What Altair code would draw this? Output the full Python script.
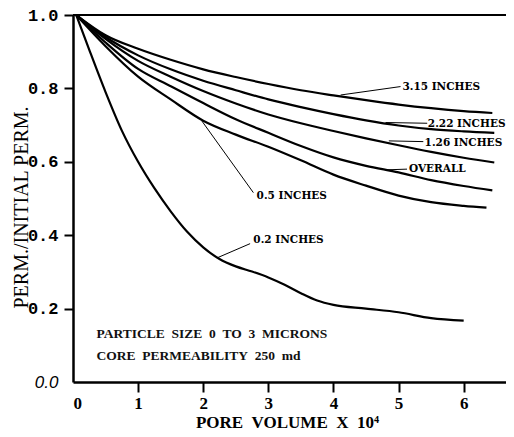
import altair as alt
import pandas as pd

# ---- data ----
series_names = ["3.15 INCHES", "2.22 INCHES", "1.26 INCHES", "OVERALL", "0.5 INCHES", "0.2 INCHES"]

x_315 = [0.05, 0.5, 1.0, 1.5, 2.0, 2.5, 3.0, 3.5, 4.0, 4.5, 5.0, 5.5, 6.0, 6.44]
y_315 = [1.0, 0.945, 0.908, 0.878, 0.852, 0.831, 0.812, 0.795, 0.781, 0.768, 0.756, 0.746, 0.738, 0.733]

x_222 = [0.05, 0.5, 1.0, 1.5, 2.0, 2.5, 3.0, 3.5, 4.0, 4.5, 5.0, 5.5, 6.0, 6.47]
y_222 = [1.0, 0.94, 0.89, 0.852, 0.821, 0.795, 0.770, 0.749, 0.730, 0.713, 0.699, 0.689, 0.683, 0.679]

x_126 = [0.05, 0.5, 1.0, 1.5, 2.0, 2.5, 3.0, 3.5, 4.0, 4.5, 5.0, 5.5, 6.0, 6.47]
y_126 = [1.0, 0.935, 0.875, 0.832, 0.793, 0.759, 0.729, 0.705, 0.684, 0.664, 0.645, 0.627, 0.611, 0.598]

x_all = [0.05, 0.5, 1.0, 1.5, 2.0, 2.5, 3.0, 3.5, 4.0, 4.5, 5.0, 5.5, 6.0, 6.44]
y_all = [1.0, 0.925, 0.853, 0.806, 0.760, 0.716, 0.679, 0.643, 0.612, 0.589, 0.571, 0.550, 0.534, 0.522]

x_05 = [0.05, 0.5, 1.0, 1.5, 2.0, 2.5, 3.0, 3.5, 4.0, 4.5, 5.0, 5.5, 6.0, 6.35]
y_05 = [1.0, 0.915, 0.832, 0.770, 0.712, 0.674, 0.641, 0.604, 0.565, 0.535, 0.508, 0.490, 0.480, 0.475]

x_02 = [0.05, 0.25, 0.5, 0.75, 1.0, 1.25, 1.5, 1.75, 2.0, 2.25, 2.5, 2.75, 3.0, 3.25, 3.5, 3.75, 4.0, 4.5, 5.0, 5.5, 6.0]
y_02 = [1.0, 0.905, 0.79, 0.685, 0.60, 0.528, 0.465, 0.41, 0.367, 0.335, 0.315, 0.301, 0.285, 0.265, 0.242, 0.222, 0.21, 0.20, 0.19, 0.174, 0.167]

label_text = ["3.15 INCHES", "2.22 INCHES", "1.26 INCHES", "OVERALL", "0.5 INCHES", "0.2 INCHES"]
label_x = [5.06, 5.45, 5.40, 5.16, 2.82, 2.77]
label_y = [0.805, 0.703, 0.652, 0.580, 0.508, 0.386]
leader_x = [4.11, 4.80, 4.85, 4.80, 1.98, 2.21]
leader_y = [0.782, 0.707, 0.657, 0.578, 0.711, 0.338]
leader_x2 = [5.03, 5.44, 5.38, 5.13, 2.77, 2.72]
leader_y2 = [0.805, 0.705, 0.655, 0.580, 0.516, 0.377]

note_text = ["PARTICLE  SIZE  0  TO  3  MICRONS", "CORE  PERMEABILITY  250  md"]
note_x = [0.36, 0.36]
note_y = [0.1315, 0.0717]

x_ticks = [0, 1, 2, 3, 4, 5, 6]
y_ticks = [0.0, 0.2, 0.4, 0.6, 0.8, 1.0]

X_MAX = 6.65

# ---- tables ----
xs = [x_315, x_222, x_126, x_all, x_05, x_02]
ys = [y_315, y_222, y_126, y_all, y_05, y_02]
rows = []
for name, xx, yy in zip(series_names, xs, ys):
    for i, (a, b) in enumerate(zip(xx, yy)):
        rows.append({"series": name, "x": a, "y": b, "order": i})
curves = pd.DataFrame(rows)

labels = pd.DataFrame({"text": label_text, "x": label_x, "y": label_y})
leaders = pd.DataFrame({"x": leader_x, "y": leader_y, "x2": leader_x2, "y2": leader_y2})
notes = pd.DataFrame({"text": [t.replace(" ", "\u00a0") for t in note_text], "x": note_x, "y": note_y})
top = pd.DataFrame({"x": [0], "x2": [X_MAX], "y": [1.0]})

xscale = alt.Scale(domain=[0, X_MAX], nice=False, zero=False)
yscale = alt.Scale(domain=[0, 1], nice=False)

x_axis = alt.Axis(
    values=x_ticks, format="d", grid=False,
    title="PORE\u00a0\u00a0VOLUME\u00a0\u00a0X\u00a0\u00a010\u2074",
    titleFont="Liberation Serif", titleFontSize=17, titleFontWeight="bold", titleColor="black",
    titleX=214, titleY=40, titleBaseline="middle", titleAlign="center",
    labelFont="Liberation Serif", labelFontSize=17, labelFontWeight="bold", labelColor="black",
    labelPadding=3, tickSize=10, tickWidth=2, tickColor="black",
    tickOpacity=alt.condition("datum.value == 0", alt.value(0), alt.value(1)),
    domainColor="black", domainWidth=2.5,
)
y_axis = alt.Axis(
    values=y_ticks, format=".1f", grid=False,
    title="PERM./INITIAL PERM.",
    titleFont="Liberation Serif", titleFontSize=20, titleFontWeight="normal", titleColor="black",
    titleAngle=270, titleX=-52, titleY=192, titleBaseline="middle", titleAlign="center",
    labelFont=alt.condition("datum.value == 0", alt.value("Liberation Sans"), alt.value("Liberation Mono")),
    labelFontStyle=alt.condition("datum.value == 0", alt.value("italic"), alt.value("normal")),
    labelFontWeight=alt.condition("datum.value == 0", alt.value("normal"), alt.value("bold")),
    labelFontSize=17, labelColor="black", labelPadding=6,
    tickSize=9, tickWidth=2, tickColor="black",
    tickOpacity=alt.condition("datum.value == 0", alt.value(0), alt.value(1)),
    domainColor="black", domainWidth=2.5,
)

lines = alt.Chart(curves).mark_line(color="black", strokeWidth=2.2, interpolate="monotone").encode(
    x=alt.X("x:Q", scale=xscale, axis=x_axis),
    y=alt.Y("y:Q", scale=yscale, axis=y_axis),
    detail="series:N",
    order="order:Q",
)

top_rule = alt.Chart(top).mark_rule(color="black", strokeWidth=2.2).encode(
    x=alt.X("x:Q", scale=xscale), x2="x2:Q", y=alt.Y("y:Q", scale=yscale)
)

leader_rules = alt.Chart(leaders).mark_rule(color="black", strokeWidth=1).encode(
    x=alt.X("x:Q", scale=xscale), y=alt.Y("y:Q", scale=yscale), x2="x2:Q", y2="y2:Q"
)

label_marks = alt.Chart(labels).mark_text(
    align="left", baseline="middle", font="DejaVu Serif", fontSize=10.5, fontWeight="bold", color="black"
).encode(x=alt.X("x:Q", scale=xscale), y=alt.Y("y:Q", scale=yscale), text="text:N")

note_marks = alt.Chart(notes).mark_text(
    align="left", baseline="middle", font="Liberation Serif", fontSize=13.5, fontWeight="bold", color="#111"
).encode(x=alt.X("x:Q", scale=xscale), y=alt.Y("y:Q", scale=yscale), text="text:N")

chart = alt.layer(lines, top_rule, leader_rules, label_marks, note_marks).properties(
    width=433, height=367,
    autosize=alt.AutoSizeParams(type="none"),
    padding={"left": 65, "top": 7, "right": 0, "bottom": 50},
).configure_view(stroke=None)

chart.save("out.html", embed_options={"renderer": "svg", "actions": False})
